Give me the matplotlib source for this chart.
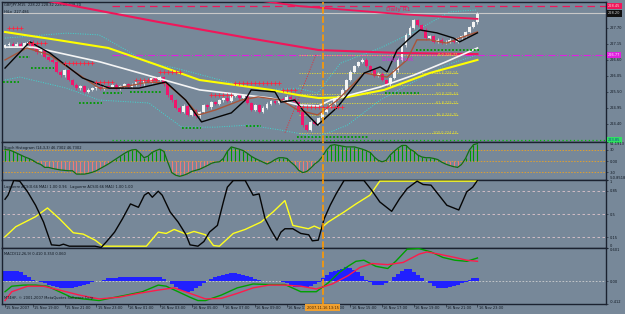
import numpy as np
import matplotlib.pyplot as plt

W, H = 625, 314
BG = '#778899'
INK = '#101822'
FS = 2.6
PX_PER_BAR = 3.97
XMIN = -0.76
XMAX = XMIN + 604 / PX_PER_BAR

# GBPJPY M15 closes, one bar every 15 min from 15 Nov 2007 17:15
closes = [
    227.11, 227.15, 227.08, 227.15, 227.04, 227.18, 227.22, 227.01, 226.87, 226.94,
    226.70, 226.60, 226.53, 226.19, 226.08, 226.25, 225.91, 225.74, 225.63, 225.70,
    225.50, 225.57, 225.63, 225.67, 225.60, 225.70, 225.67, 225.74, 225.63, 225.70,
    225.77, 225.67, 225.74, 225.84, 225.77, 225.91, 225.84, 225.98, 225.91, 226.01,
    225.77, 225.39, 225.22, 224.95, 224.81, 225.02, 224.71, 224.88, 224.67, 224.81,
    225.05, 224.98, 225.15, 225.09, 225.22, 225.29, 225.19, 225.36, 225.43, 225.29,
    225.39, 225.12, 224.88, 225.05, 224.81, 224.95, 225.09, 225.19, 225.12, 225.26,
    225.22, 225.33, 225.26, 225.15, 224.81, 224.36, 224.20, 224.47, 224.40, 224.60,
    224.81, 224.95, 225.09, 225.29, 225.36, 225.57, 225.91, 226.19, 226.39, 226.53,
    226.60, 226.39, 226.25, 226.05, 226.12, 225.91, 225.77, 225.98, 226.25, 226.60,
    227.11, 227.46, 227.70, 227.97, 227.80, 227.63, 227.35, 227.42, 227.22, 227.29,
    227.18, 227.22, 227.29, 227.22, 227.35, 227.42, 227.56, 227.73, 227.90, 228.18,
]
first_open = 227.06
WICK = 0.05  # wick overhang drawn on each candle

# moving averages and bands, (bar, price) points
yellow_ma_x = [0, 13, 26, 37, 49, 67, 74, 79, 86, 95.5, 107, 119]
yellow_ma = [227.56, 227.29, 227.01, 226.49, 225.91, 225.57, 225.39, 225.29, 225.32, 225.57, 226.15, 226.60]
white_ma_x = [0, 7, 24, 49, 67, 74, 79, 82, 94.5, 103, 111, 119]
white_ma = [227.04, 227.04, 226.53, 225.57, 225.29, 225.05, 225.02, 225.22, 225.67, 226.08, 226.53, 227.01]
black_x = [0, 6.25, 11.25, 19.5, 26.25, 33.75, 40.5, 45.5, 49.5, 57, 60.5, 62, 68, 69.5, 73, 75,
           78.75, 83.75, 90.5, 94.5, 96.25, 98.75, 102, 104.5, 108.75, 113, 114.5, 119]
black_line = [226.32, 227.22, 226.84, 225.98, 225.63, 225.63, 225.84, 225.22, 224.47, 224.78, 225.22,
              225.57, 225.50, 225.15, 225.22, 224.88, 224.36, 224.98, 226.15, 226.36, 226.19, 226.94,
              227.35, 227.63, 227.53, 227.35, 227.22, 227.53]
brown_x = [0, 5.5, 11.25, 19.5, 23.75, 28, 36.25, 40.5, 45.5, 48.75, 53, 59.5, 63.75, 69.5, 73.75,
           78.75, 83.75, 90.5, 96.25, 101.25, 103.75, 107, 111.25, 114.5, 119]
brown_line = [226.60, 227.01, 226.77, 226.01, 225.63, 225.63, 225.84, 225.81, 225.22, 224.71, 224.88,
              225.22, 225.33, 225.22, 224.88, 224.71, 225.22, 226.15, 226.01, 226.60, 227.29, 227.29,
              227.18, 227.35, 227.56]
band_up_x = [0, 15.5, 23.75, 36.25, 43, 57, 65.5, 73.75, 78.75, 84.5, 94.5, 103, 112, 119]
band_up = [227.35, 227.52, 227.46, 226.49, 226.32, 225.81, 225.57, 225.63, 225.46, 226.49, 227.01,
           227.56, 228.25, 228.32]
band_lo_x = [0, 3.75, 15.5, 23.75, 36.25, 44.5, 53, 61.25, 69.5, 78.75, 86.25, 94.5, 103.75, 111.25, 119]
band_lo = [225.91, 226.01, 225.63, 225.22, 225.12, 224.29, 224.29, 224.36, 224.19, 223.95, 224.36,
           225.22, 225.91, 226.43, 226.77]
red_slow_x = [4.5, 9.5, 38.8, 61.4, 79, 99, 119]
red_slow = [228.80, 228.66, 227.90, 227.35, 226.94, 226.84, 226.80]
red_fast_x = [61.4, 74, 99, 119]
red_fast = [228.69, 228.45, 228.18, 228.01]

# resistance (+) and support (dots) runs: first bar, last bar, price
res_runs = [(1, 4, 227.70), (6, 10, 227.18), (15, 22, 226.49), (23, 27, 225.84), (33, 38, 225.91),
            (39, 44, 226.19), (52, 57, 225.39), (58, 69, 225.81), (70, 73, 225.57), (74, 85, 224.98)]
sup_runs = [(0, 3, 225.84), (4, 6, 226.70), (7, 12, 226.32), (19, 24, 225.12), (25, 29, 225.46),
            (32, 39, 225.50), (45, 49, 224.26), (61, 64, 224.33), (74, 91, 223.95), (96, 104, 225.46),
            (104, 119, 226.94)]

# daily levels
r1_price, bid_price, pivot_price, s1_price = 228.45, 228.20, 226.77, 223.85
day_start_bar = 27

# fibonacci retracement
fib_pct = ['0.0', '23.6', '38.2', '50.0', '61.8', '76.4', '100.0']
fib_price = [226.77, 226.14, 225.75, 225.44, 225.12, 224.70, 224.10]
fib_from, fib_to = 74, 114
fib_trend_x = [70.5, 78.3]
fib_trend = [224.10, 226.77]

cross_bar = 80

# Stoch Histogram (14,3,3), one value per bar
stoch = [
    31, 30, 26, 21, 16, 11, 7, 2, -5, -9,
    -17, -17, -20, -22, -24, -25, -26, -26, -35, -35,
    -35, -33, -30, -26, -20, -14, -8, -1, 6, 13,
    20, 26, 30, 31, 21, 9, 13, 23, 28, 32,
    26, -3, -31, -38, -41, -38, -34, -28, -25, -22,
    -17, -12, -6, -3, -2, 7, 26, 38, 35, 32,
    28, 21, 13, 7, 2, -3, -8, -3, 4, 9,
    9, 7, -3, -12, -25, -31, -28, -19, -8, 0,
    13, 30, 42, 44, 42, 40, 38, 38, 38, 35,
    32, 28, 23, 11, 2, -2, 2, 16, 26, 35,
    42, 42, 32, 26, 16, 11, 9, 9, 7, 4,
    -3, -8, -12, -15, -17, -9, 7, 30, 44, 47,
]

# Laguerre lines
lagb_x = [0, 0.75, 2.2, 3.7, 5.7, 7.7, 9.7, 11.7, 13.7, 14.7, 16.2, 22.7, 24.2, 25.6, 27.6, 29.6,
          31.6, 33.6, 35.1, 36.1, 37.1, 38.6, 39.6, 41.6, 43.6, 45.6, 46.6, 48.6, 50.1, 51.5, 53.5,
          55.0, 56.0, 57.5, 60.5, 62.5, 64.0, 65.5, 67.0, 68.5, 69.5, 70.5, 72.5, 74.5, 76.5, 77.4,
          78.9, 80.4, 81.9, 83.4, 85.4, 90.4, 92.4, 94.4, 97.4, 99.4, 101.3, 103.8, 105.3, 107.3,
          109.3, 111.3, 114.3, 116.3, 117.8, 119]
lagb = [0.72, 0.78, 1.0, 0.99, 0.83, 0.63, 0.38, 0.04, 0.03, 0.05, 0.02, 0.02, 0.0, 0.09, 0.23, 0.43,
        0.65, 0.60, 0.78, 0.82, 0.75, 0.84, 0.78, 0.53, 0.38, 0.19, 0.04, 0.02, 0.09, 0.23, 0.33,
        0.68, 0.90, 1.0, 1.0, 0.78, 0.80, 0.43, 0.26, 0.11, 0.23, 0.28, 0.28, 0.21, 0.19, 0.10,
        0.11, 0.43, 0.63, 0.80, 1.0, 1.0, 0.85, 0.68, 0.54, 0.73, 0.88, 0.99, 0.94, 0.93,
        0.78, 0.63, 0.56, 0.83, 0.90, 1.0]
lagy_x = [0, 2.7, 7.7, 10.7, 13.7, 17.2, 19.7, 22.7, 24.7, 35.6, 38.6, 40.6, 42.6, 45.6, 47.6, 50.5,
          52.5, 54.0, 57.5, 60.5, 64.5, 67.5, 70.5, 72.5, 76.4, 77.9, 79.4, 81.4, 85.4, 88.4, 91.9,
          94.4, 119]
lagy = [0.16, 0.31, 0.46, 0.59, 0.43, 0.22, 0.20, 0.11, 0.02, 0.02, 0.23, 0.21, 0.27, 0.20, 0.24, 0.19,
        0.03, 0.02, 0.21, 0.27, 0.38, 0.53, 0.70, 0.33, 0.28, 0.32, 0.28, 0.38, 0.53, 0.65, 0.78,
        0.99, 0.99]

# MACD(12,26,9)
macd_hist = [
    0.19, 0.19, 0.19, 0.18, 0.16, 0.12, 0.07, 0.02, 0.00, -0.01,
    -0.03, -0.06, -0.09, -0.11, -0.12, -0.12, -0.12, -0.12, -0.11, -0.09,
    -0.07, -0.05, -0.02, 0.00, 0.01, 0.03, 0.05, 0.06, 0.06, 0.07,
    0.08, 0.08, 0.08, 0.07, 0.07, 0.07, 0.08, 0.08, 0.08, 0.07,
    0.04, 0.00, -0.05, -0.10, -0.15, -0.18, -0.19, -0.17, -0.13, -0.08,
    -0.03, 0.01, 0.04, 0.07, 0.09, 0.11, 0.13, 0.14, 0.14, 0.13,
    0.12, 0.10, 0.07, 0.04, 0.02, 0.01, 0.01, 0.01, 0.01, 0.01,
    -0.01, -0.04, -0.07, -0.10, -0.11, -0.11, -0.10, -0.08, -0.05, -0.02,
    0.06, 0.12, 0.16, 0.19, 0.21, 0.23, 0.25, 0.24, 0.21, 0.16,
    0.09, 0.03, -0.02, -0.06, -0.07, -0.06, -0.03, 0.01, 0.07, 0.13,
    0.19, 0.23, 0.22, 0.17, 0.11, 0.05, 0.01, -0.04, -0.09, -0.12,
    -0.13, -0.12, -0.11, -0.09, -0.07, -0.04, -0.01, 0.03, 0.06, 0.06,
]
macd_x = [0, 1.7, 4.7, 7.7, 10.7, 13.7, 16.7, 19.7, 23.7, 25.6, 30.6, 34.6, 38.6, 40.6, 43.6, 46.6,
          48.6, 50.5, 54.5, 58.5, 62.5, 66.5, 70.5, 74.5, 78.4, 81.4, 84.4, 86.4, 88.4, 90.4, 93.4,
          96.4, 98.4, 101.3, 104.3, 107.3, 110.3, 113.3, 116.3, 119]
macd_main = [-0.19, -0.09, -0.07, -0.07, -0.09, -0.19, -0.29, -0.32, -0.35, -0.32, -0.25, -0.19, -0.07,
             -0.09, -0.19, -0.29, -0.35, -0.35, -0.25, -0.12, -0.05, -0.06, -0.06, -0.19, -0.19, -0.03,
             0.17, 0.27, 0.36, 0.38, 0.27, 0.23, 0.36, 0.58, 0.59, 0.53, 0.43, 0.38, 0.36, 0.42]
sig_x = [0, 1.7, 5.7, 9.7, 13.7, 18.7, 23.7, 28.6, 33.6, 38.6, 42.6, 46.6, 50.5, 54.5, 58.5, 62.5,
         66.5, 70.5, 74.5, 78.4, 82.4, 86.4, 89.4, 92.4, 96.4, 100.3, 104.3, 106.3, 109.3, 113.3,
         116.3, 119]
macd_signal = [-0.35, -0.19, -0.09, -0.09, -0.16, -0.25, -0.32, -0.29, -0.22, -0.16, -0.12, -0.22, -0.32,
               -0.31, -0.22, -0.12, -0.07, -0.07, -0.09, -0.14, -0.05, 0.10, 0.25, 0.32, 0.30, 0.34,
               0.49, 0.53, 0.49, 0.43, 0.38, 0.36]

# time axis
time_bars = [0, 7, 15, 23, 31, 39, 47, 55, 63, 71, 79, 87, 95, 103, 111, 119]
time_text = ['15 Nov 2007', '15 Nov 19:00', '15 Nov 21:00', '15 Nov 23:00', '16 Nov 01:00',
             '16 Nov 03:00', '16 Nov 05:00', '16 Nov 07:00', '16 Nov 09:00', '16 Nov 11:00',
             '16 Nov 13:00', '16 Nov 15:00', '16 Nov 17:00', '16 Nov 19:00', '16 Nov 21:00',
             '16 Nov 23:00']
cross_time = '2007.11.16 13:15'

fig = plt.figure(figsize=(W / 100, H / 100), dpi=100, facecolor=BG)


def panel(y0, y1, ylim, ticks, labels):
    ax = fig.add_axes([2 / W, 1 - y1 / H, 604 / W, (y1 - y0) / H])
    ax.set_facecolor(BG)
    ax.set_xlim(XMIN, XMAX)
    ax.set_ylim(*ylim)
    for s in ax.spines.values():
        s.set_linestyle((0, (1, 1)))
        s.set_color('#1b2230')
        s.set_linewidth(1.0)
    ax.yaxis.tick_right()
    ax.set_yticks(ticks)
    ax.set_yticklabels(labels)
    ax.tick_params(axis='y', labelsize=FS, colors=INK, length=1.5, width=0.4, pad=1)
    tl = ax.get_yticklabels()
    tl[0].set_va('top')
    tl[-1].set_va('bottom')
    ax.set_xticks([])
    ax.axvline(cross_bar, color='#ff9900', lw=1.2, ls=(0, (4, 1.5)), zorder=7)
    return ax


def price_box(ax, y, txt, fc, tc):
    ax.text(1.003, y, txt, transform=ax.get_yaxis_transform(), fontsize=FS, color=tc,
            va='center', ha='left', bbox=dict(boxstyle='square,pad=0.35', fc=fc, ec='none'))


# ---------------- main price panel
main = panel(2, 142, (223.78, 228.59),
             [227.70, 227.15, 226.60, 226.05, 225.50, 224.95, 224.40],
             ['227.70', '227.15', '226.60', '226.05', '225.50', '224.95', '224.40'])
for t in main.get_yticklabels():
    t.set_va('center')
bars = np.arange(len(closes))
c = np.array(closes)
o = np.array([first_open] + closes[:-1])
lo = np.minimum(o, c)
body = np.maximum(np.abs(c - o), 0.015)
cols = np.where(c >= o, '#f4f4f4', '#f2156b')
main.vlines(bars, lo - WICK, lo + body + WICK, colors=cols, lw=0.5, zorder=3)
main.bar(bars, body, bottom=lo, width=0.72, color=cols, lw=0, zorder=3)

main.plot(band_up_x, band_up, color='#3fd7d0', lw=0.7, ls=(0, (1, 1.5)), zorder=2)
main.plot(band_lo_x, band_lo, color='#3fd7d0', lw=0.7, ls=(0, (1, 1.5)), zorder=2)
main.plot(red_slow_x, red_slow, color='#f0165a', lw=1.5, zorder=4)
main.plot(red_fast_x, red_fast, color='#f0165a', lw=1.3, zorder=4)
main.plot(yellow_ma_x, yellow_ma, color='#ffff00', lw=1.5, zorder=4)
main.plot(white_ma_x, white_ma, color='#f5f5f5', lw=1.2, zorder=4)
main.plot(brown_x, brown_line, color='#a8553a', lw=1.0, zorder=5)
main.plot(black_x, black_line, color='#050505', lw=1.0, zorder=5)

for a, b, p in res_runs:
    xs = np.arange(a, b + 1)
    main.plot(xs, np.full(len(xs), p), '+', color='#ff2440', ms=2.2, mew=0.6, zorder=5)
for a, b, p in sup_runs:
    main.hlines(p, a - 0.4, b + 0.4, color='#009a00', lw=1.3, ls=(0, (1, 1)), zorder=5)

main.hlines(r1_price, day_start_bar, XMAX, color='#f0165a', lw=0.9, ls=(0, (6, 4)), zorder=2)
main.axhline(bid_price, color='#c8c8c8', lw=0.8, zorder=2)
main.hlines(pivot_price, day_start_bar, XMAX, color='#e020e0', lw=0.8, ls='-.', zorder=2)
main.hlines(s1_price, day_start_bar, XMAX, color='#00c000', lw=0.9, ls=(0, (1, 2)), zorder=2)
main.text(96, r1_price - 0.12, 'Daily R1', color='#f0165a', fontsize=4.2, va='center', zorder=6)
main.text(95, pivot_price - 0.17, 'Daily Pivot', color='#e020e0', fontsize=4.2, va='center', zorder=6)

for pct, p in zip(fib_pct, fib_price):
    main.hlines(p, fib_from, fib_to, color='#e8e030', lw=0.6, ls=(0, (1.5, 1.5)), zorder=2)
    main.text(fib_to, p, f'{pct} {p:.2f}', color='#e8e030', fontsize=2.6, ha='right', va='center', zorder=6)
main.plot(fib_trend_x, fib_trend, color='#e0303a', lw=0.6, ls=(0, (1.5, 1.5)), zorder=2)

price_box(main, r1_price, '228.45', '#f0165a', '#ffd0d8')
price_box(main, bid_price, '228.20', '#101010', '#d0d0d0')
price_box(main, pivot_price, '226.77', '#e020e0', '#ffe0ff')
price_box(main, s1_price, '223.85', '#30e060', '#1040a0')
main.text(0.004, 0.99, 'GBPJPY,M15  228.22 228.32 228.06 228.20', transform=main.transAxes,
          fontsize=FS, color=INK, va='top', ha='left')
main.text(0.004, 0.94, 'HiLo  227.486', transform=main.transAxes,
          fontsize=FS, color=INK, va='top', ha='left')

# ---------------- stoch histogram
st = panel(142, 180, (-50.85, 51.19), [51.1913, 30, 0, -30, -50.8518],
           ['51.1913', '30', '0.00', '-30', '-50.8518'])
sv = np.array(stoch)
st.vlines(bars, 0, sv, colors=np.where(sv > 0, '#009a00', '#f27878'), lw=0.8, zorder=2)
st.plot(bars, sv, color='#127012', lw=0.9, zorder=3)
for lv in (30, 0, -30):
    st.axhline(lv, color='#e0a030', lw=0.7, ls=(0, (1.5, 1.5)), zorder=1)
st.text(0.004, 0.9, 'Stoch Histogram (14,3,3) 46.7302 46.7302', transform=st.transAxes,
        fontsize=FS, color=INK, va='top')

# ---------------- laguerre
lg = panel(180, 248, (-0.007, 1.007), [1, 0.85, 0.5, 0.15, 0], ['1', '0.85', '0.5', '0.15', '0'])
for lv in (0.85, 0.5, 0.15):
    lg.axhline(lv, color='#e0c4cc', lw=0.6, ls=(0, (3, 3)), zorder=1)
lg.plot(lagy_x, lagy, color='#ffff20', lw=1.0, zorder=3)
lg.plot(lagb_x, lagb, color='#050505', lw=1.0, zorder=3)
lg.text(0.004, 0.93, 'Laguerre ACS(0.66 MA1) 1.00 0.96   Laguerre ACS(0.66 MA1) 1.00 1.00',
        transform=lg.transAxes, fontsize=FS, color=INK, va='top')

# ---------------- MACD
md = panel(248, 304, (-0.412, 0.601), [0.601, 0, -0.412], ['0.601', '0.00', '-0.412'])
md.axhline(0, color='#d0d0d0', lw=0.6, ls=(0, (2, 2)), zorder=1)
md.bar(bars, macd_hist, width=1.0, color='#2020ff', lw=0, zorder=2)
md.plot(macd_x, macd_main, color='#00a000', lw=1.0, zorder=3)
md.plot(sig_x, macd_signal, color='#ff1a4a', lw=1.0, zorder=3)
md.text(0.004, 0.93, 'MACD(12,26,9) 0.410 0.350 0.060', transform=md.transAxes,
        fontsize=FS, color=INK, va='top')
md.text(0.004, 0.07, 'MT4HF, \u00a9 2001-2007 MetaQuotes Software Corp.', transform=md.transAxes,
        fontsize=FS, color=INK, va='bottom')

md.set_xticks(time_bars)
md.set_xticklabels([])
md.tick_params(axis='x', length=2, width=0.4, colors=INK, direction='out')
tr = md.get_xaxis_transform()
for b, t in zip(time_bars, time_text):
    md.text(b + 0.3, -0.07, t, transform=tr, fontsize=FS, color=INK, ha='left', va='center')
md.text(cross_bar, -0.07, cross_time, transform=tr, fontsize=FS, color='#402000', ha='center',
        va='center', zorder=10, bbox=dict(boxstyle='square,pad=0.4', fc='#f0a030', ec='none'))

fig.savefig('out.png', dpi=100, facecolor=BG)
